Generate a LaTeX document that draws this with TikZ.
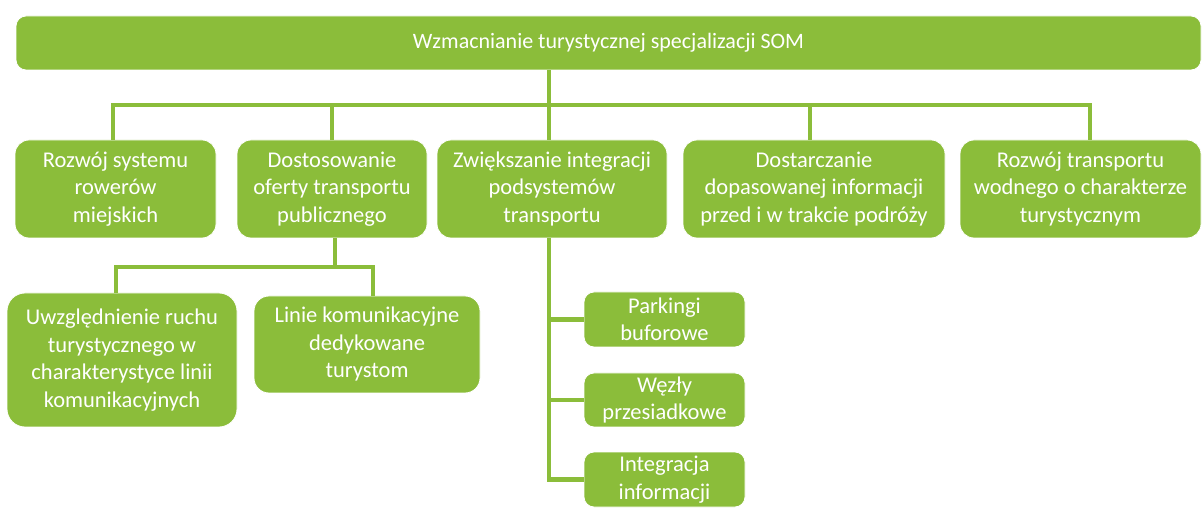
\documentclass[tikz,border=0pt]{standalone}
\usepackage{fontspec}
\setmainfont{Carlito}
\definecolor{leaf}{RGB}{139,189,58}
\begin{document}
\begin{tikzpicture}[x=1pt,y=-1pt,
  box/.style={fill=leaf,draw=white,line width=0.8pt,text=white,align=center,inner sep=0pt,
    font=\fontsize{22.5}{27.5}\selectfont},
  lvl/.style={box,minimum height=98,rounded corners=14},
  small/.style={box,minimum width=161,rounded corners=10},
  link/.style={draw=leaf,line width=4.5}]
\useasboundingbox (0,0) rectangle (1203,521);
\node[box,minimum width=1185,minimum height=54,rounded corners=10,font=\fontsize{22}{26}\selectfont] (root) at (608.5,43) {Wzmacnianie turystycznej specjalizacji SOM};
\node[lvl,minimum width=201] (b1) at (115.5,189) {Rozwój systemu\\rowerów\\miejskich};
\node[lvl,minimum width=190] (b2) at (332,189) {Dostosowanie\\oferty transportu\\publicznego};
\node[lvl,minimum width=230] (b3) at (552,189) {Zwiększanie integracji\\podsystemów\\transportu};
\node[lvl,minimum width=262] (b4) at (814,189) {Dostarczanie\\dopasowanej informacji\\przed i w trakcie podróży};
\node[lvl,minimum width=241] (b5) at (1080.5,189) {Rozwój transportu\\wodnego o charakterze\\turystycznym};
\node[box,minimum width=230,minimum height=134,rounded corners=18] (c1) at (122,360) {Uwzględnienie ruchu\\turystycznego w\\charakterystyce linii\\komunikacyjnych};
\node[box,minimum width=226,minimum height=97,rounded corners=15] (c2) at (367,344.5) {Linie komunikacyjne\\dedykowane\\turystom};
\node[small,minimum height=55] (d1) at (664.5,319.5) {Parkingi\\buforowe};
\node[small,minimum height=54] (d2) at (664.5,400) {Węzły\\przesiadkowe};
\node[small,minimum height=55] (d3) at (664.5,479.5) {Integracja\\informacji};
\coordinate (bus) at (549,105);
\coordinate (bus2) at (335,267);
\path[link] (root.south -| bus) -- (b3.north -| bus);
\path[link] ([xshift=-2.5]b1.north) |- (bus) -| ([xshift=9.5]b5.north);
\path[link] (b2.north) -- (b2.north |- bus);
\path[link] ([xshift=-4]b4.north) -- ([xshift=-4]b4.north |- bus);
\path[link] (b2.south -| bus2) -- (bus2);
\path[link] ([xshift=-6]c1.north) |- (bus2) -| ([xshift=6]c2.north);
\path[link] (b3.south -| bus) |- (d3.west);
\path[link] (d1.west -| bus) -- (d1.west);
\path[link] (d2.west -| bus) -- (d2.west);
\end{tikzpicture}
\end{document}
